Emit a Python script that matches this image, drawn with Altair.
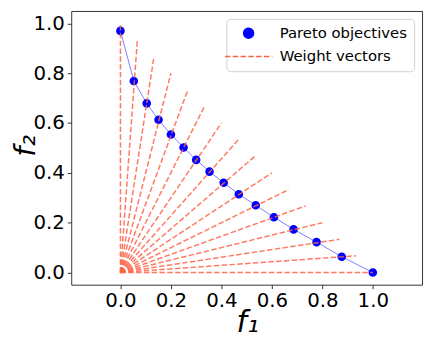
import altair as alt
import pandas as pd

# Pareto objectives
pareto_f1 = [0.0, 0.053, 0.104, 0.151, 0.200, 0.250, 0.300, 0.353, 0.409, 0.469, 0.536, 0.608, 0.686, 0.777, 0.877, 1.0]
pareto_f2 = [0.970, 0.769, 0.679, 0.613, 0.554, 0.502, 0.452, 0.405, 0.360, 0.314, 0.270, 0.222, 0.173, 0.122, 0.063, 0.0]

# Weight vector end points (each drawn from the origin)
weight_w1 = [0.0, 0.067, 0.133, 0.200, 0.267, 0.333, 0.400, 0.467, 0.533, 0.600, 0.667, 0.733, 0.800, 0.867, 0.933, 1.0]
weight_w2 = [1.0, 0.933, 0.867, 0.800, 0.733, 0.667, 0.600, 0.533, 0.467, 0.400, 0.333, 0.267, 0.200, 0.133, 0.067, 0.0]

series = ["Pareto objectives", "Weight vectors"]
tick_values = [0.0, 0.2, 0.4, 0.6, 0.8, 1.0]

pareto_df = pd.DataFrame({"f1": pareto_f1, "f2": pareto_f2, "series": series[0]})

rows = []
for i, (a, b) in enumerate(zip(weight_w1, weight_w2)):
    rows.append({"vec": i, "ord": 0, "f1": 0.0, "f2": 0.0, "series": series[1]})
    rows.append({"vec": i, "ord": 1, "f1": a, "f2": b, "series": series[1]})
weights_df = pd.DataFrame(rows)

xscale = alt.Scale(domain=[-0.195, 1.195], nice=False, zero=False)
yscale = alt.Scale(domain=[-0.049, 1.05], nice=False, zero=False)

xaxis = alt.Axis(values=tick_values, format=".1f", title="f₁", grid=False, domain=False,
                 tickSize=4, tickColor="#333", labelFontSize=20, labelColor="black",
                 labelPadding=2, labelFont="DejaVu Sans", titleFont="DejaVu Sans",
                 titleFontSize=30, titleFontStyle="italic", titleFontWeight="normal",
                 titleColor="black", titleBaseline="alphabetic", titleY=47, titleX=178)
yaxis = alt.Axis(values=tick_values, format=".1f", title="f₂", grid=False, domain=False,
                 tickSize=4, tickColor="#333", labelFontSize=20, labelColor="black",
                 labelPadding=3, labelFont="DejaVu Sans", titleFont="DejaVu Sans",
                 titleFontSize=29, titleFontStyle="italic", titleFontWeight="normal",
                 titleColor="black", titleBaseline="alphabetic", titleAngle=270,
                 titleX=-37, titleY=136, titleAlign="center")

color_scale = alt.Scale(domain=series, range=["#0000ff", "#ff6347"])
legend = alt.Legend(title=None, orient="top-right", offset=8, labelFontSize=15,
                    labelFont="DejaVu Sans", labelColor="black", padding=7,
                    rowPadding=7.5, labelOffset=24, symbolOffset=8, fillColor="white",
                    strokeColor="#d0d0d0", cornerRadius=4, symbolStrokeWidth=1.5)

front = alt.Chart(pareto_df).mark_line(color="#0000ff", opacity=0.5, strokeWidth=1).encode(
    x=alt.X("f1:Q", scale=xscale, axis=xaxis),
    y=alt.Y("f2:Q", scale=yscale, axis=yaxis),
    order=alt.Order("f1:Q"),
)

points = alt.Chart(pareto_df).mark_point(filled=True, size=45, opacity=1).encode(
    x=alt.X("f1:Q", scale=xscale, axis=xaxis),
    y=alt.Y("f2:Q", scale=yscale, axis=yaxis),
    fill=alt.Fill("series:N", scale=color_scale, legend=legend),
    stroke=alt.Stroke("series:N", scale=color_scale, legend=legend),
    shape=alt.Shape("series:N", scale=alt.Scale(domain=series, range=["circle", "M-4.8,0H4.8"]), legend=legend),
)

vectors = alt.Chart(weights_df).mark_line(strokeWidth=1.5, opacity=0.85).encode(
    x=alt.X("f1:Q", scale=xscale, axis=xaxis),
    y=alt.Y("f2:Q", scale=yscale, axis=yaxis),
    detail="vec:N",
    order=alt.Order("ord:Q"),
    stroke=alt.Stroke("series:N", scale=color_scale, legend=legend),
    strokeDash=alt.StrokeDash("series:N", scale=alt.Scale(domain=series, range=[[1, 0], [5.5, 2.4]]), legend=legend),
)

chart = alt.layer(front, points, vectors).properties(
    width=355, height=277,
    autosize=alt.AutoSizeParams(type="none"),
    padding={"left": 64, "top": 1, "right": 2, "bottom": 56},
).configure_view(stroke="#333", strokeWidth=1)

chart.save("out.html", embed_options={"renderer": "svg", "actions": False})
